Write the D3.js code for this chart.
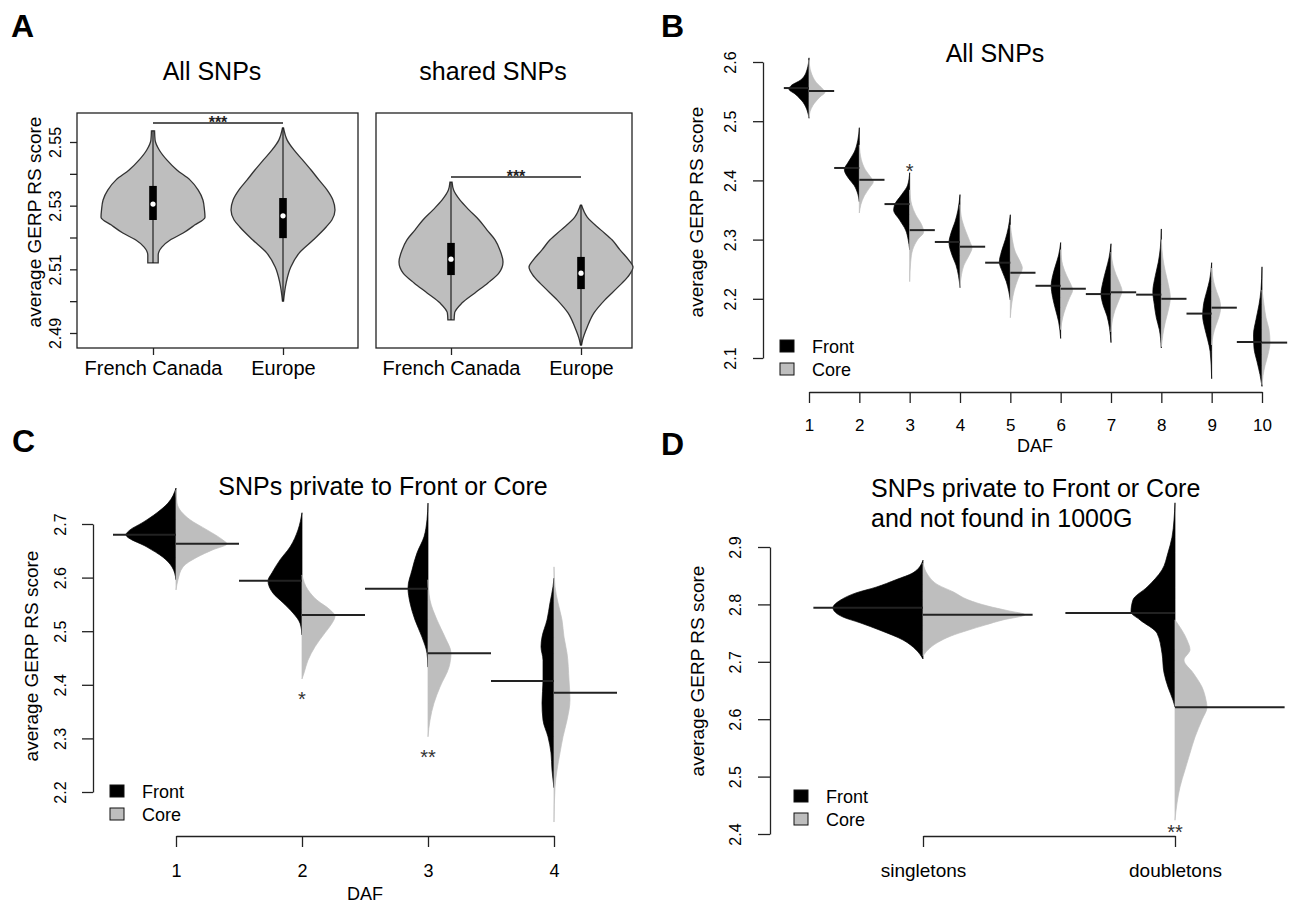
<!DOCTYPE html>
<html>
<head>
<meta charset="utf-8">
<script src="https://cdn.jsdelivr.net/npm/d3@7"></script>
<style>
  body { margin: 0; background: #fff; }
  svg { font-family: "Liberation Sans", Arial, Helvetica, sans-serif; }
</style>
</head>
<body>
<svg id="chart" width="1289" height="904"></svg>
<script>
// ---------- data: panel A (classic violins) ----------
var aGroups = ["French Canada", "Europe"];
var aTickValues = [2.49, 2.50, 2.51, 2.52, 2.53, 2.54, 2.55];
var aTickLabels = ["2.49", "", "2.51", "", "2.53", "", "2.55"];
// [score, relative density]
var aAllProfiles = [
  [[2.5535,0.03],[2.5506,0.04],[2.5475,0.12],[2.5443,0.27],[2.5412,0.46],[2.5381,0.71],[2.5349,0.87],[2.5318,0.96],[2.5286,0.99],[2.5264,1.0],[2.5239,0.8],[2.5214,0.58],[2.5192,0.33],[2.5170,0.17],[2.5145,0.10],[2.5120,0.10]],
  [[2.5544,0.01],[2.5506,0.08],[2.5475,0.21],[2.5443,0.38],[2.5412,0.54],[2.5381,0.69],[2.5349,0.85],[2.5318,0.96],[2.5286,1.0],[2.5255,0.94],[2.5233,0.83],[2.5192,0.58],[2.5151,0.31],[2.5107,0.15],[2.5057,0.06],[2.5000,0.01]]
];
var aSharedProfiles = [
  [[2.5374,0.02],[2.5349,0.05],[2.5318,0.17],[2.5286,0.35],[2.5255,0.54],[2.5224,0.69],[2.5192,0.85],[2.5161,0.94],[2.5123,1.0],[2.5088,0.92],[2.5057,0.71],[2.5026,0.46],[2.4994,0.21],[2.4963,0.07],[2.4941,0.06]],
  [[2.5302,0.01],[2.5264,0.12],[2.5224,0.38],[2.5192,0.6],[2.5161,0.75],[2.5129,0.92],[2.5107,1.0],[2.5076,0.9],[2.5044,0.71],[2.5004,0.46],[2.4963,0.25],[2.4919,0.12],[2.4878,0.03],[2.4862,0.01]]
];
// [q1, median, q3]
var aAllBoxes = [[2.5255, 2.5305, 2.5362], [2.5198, 2.5268, 2.5324]];
var aSharedBoxes = [[2.5082, 2.5132, 2.5183], [2.5038, 2.5088, 2.5139]];

// ---------- data: panel B ----------
var bDaf = [1, 2, 3, 4, 5, 6, 7, 8, 9, 10];
var bTickValues = [2.1, 2.2, 2.3, 2.4, 2.5, 2.6];
var bFrontMedian = [2.556, 2.421, 2.360, 2.296, 2.261, 2.222, 2.208, 2.207, 2.175, 2.127];
var bCoreMedian = [2.551, 2.401, 2.316, 2.288, 2.244, 2.217, 2.211, 2.200, 2.185, 2.126];
var bFrontProfiles = [
  [[2.607,0],[2.587,0.1],[2.570,0.4],[2.560,0.9],[2.554,1.0],[2.546,0.7],[2.532,0.3],[2.519,0.1],[2.505,0]],
  [[2.489,0],[2.468,0.075],[2.448,0.25],[2.431,0.55],[2.418,0.75],[2.404,0.55],[2.391,0.25],[2.377,0.075],[2.364,0]],
  [[2.413,0],[2.392,0.1],[2.376,0.4],[2.359,0.75],[2.350,0.8],[2.333,0.5],[2.316,0.2],[2.300,0.075],[2.283,0]],
  [[2.376,0],[2.350,0.1],[2.330,0.25],[2.311,0.45],[2.295,0.55],[2.274,0.4],[2.257,0.2],[2.239,0.075],[2.219,0]],
  [[2.342,0],[2.320,0.1],[2.300,0.25],[2.279,0.45],[2.262,0.55],[2.246,0.4],[2.229,0.2],[2.212,0.075],[2.198,0]],
  [[2.295,0],[2.274,0.1],[2.257,0.25],[2.239,0.4],[2.222,0.475],[2.202,0.4],[2.181,0.25],[2.161,0.1],[2.133,0]],
  [[2.293,0],[2.269,0.1],[2.249,0.25],[2.229,0.4],[2.208,0.5],[2.190,0.4],[2.171,0.2],[2.151,0.075],[2.126,0]],
  [[2.318,0],[2.286,0.05],[2.262,0.15],[2.239,0.3],[2.212,0.425],[2.190,0.35],[2.168,0.25],[2.148,0.1],[2.117,0]],
  [[2.261,0],[2.232,0.1],[2.212,0.25],[2.192,0.4],[2.171,0.45],[2.151,0.35],[2.131,0.2],[2.111,0.075],[2.065,0]],
  [[2.254,0],[2.215,0.05],[2.190,0.15],[2.165,0.3],[2.139,0.425],[2.117,0.4],[2.094,0.25],[2.072,0.1],[2.052,0]]
];
var bCoreProfiles = [
  [[2.603,0],[2.583,0.1],[2.566,0.35],[2.554,0.7],[2.549,0.8],[2.541,0.55],[2.527,0.2],[2.516,0.05],[2.506,0]],
  [[2.460,0],[2.435,0.1],[2.418,0.3],[2.404,0.6],[2.398,0.7],[2.387,0.5],[2.374,0.25],[2.359,0.075],[2.345,0]],
  [[2.384,0],[2.359,0.1],[2.342,0.3],[2.325,0.6],[2.313,0.7],[2.300,0.4],[2.283,0.15],[2.262,0.05],[2.229,0]],
  [[2.359,0],[2.333,0.1],[2.313,0.3],[2.296,0.5],[2.286,0.6],[2.273,0.45],[2.257,0.2],[2.241,0.075],[2.220,0]],
  [[2.325,0],[2.300,0.1],[2.279,0.25],[2.262,0.5],[2.252,0.6],[2.235,0.4],[2.215,0.2],[2.193,0.075],[2.168,0]],
  [[2.283,0],[2.257,0.1],[2.239,0.3],[2.225,0.5],[2.215,0.6],[2.202,0.45],[2.185,0.25],[2.168,0.1],[2.148,0]],
  [[2.279,0],[2.257,0.1],[2.241,0.25],[2.225,0.45],[2.214,0.55],[2.198,0.4],[2.181,0.2],[2.165,0.075],[2.144,0]],
  [[2.300,0],[2.269,0.075],[2.246,0.2],[2.224,0.35],[2.202,0.45],[2.181,0.35],[2.161,0.2],[2.139,0.075],[2.119,0]],
  [[2.252,0],[2.229,0.1],[2.212,0.25],[2.198,0.4],[2.185,0.45],[2.168,0.35],[2.154,0.2],[2.139,0.075],[2.122,0]],
  [[2.215,0],[2.190,0.1],[2.168,0.2],[2.148,0.35],[2.126,0.4],[2.106,0.3],[2.087,0.15],[2.070,0.05],[2.055,0]]
];
var bSig = ["", "", "*", "", "", "", "", "", "", ""];

// ---------- data: panel C ----------
var cDaf = [1, 2, 3, 4];
var cTickValues = [2.2, 2.3, 2.4, 2.5, 2.6, 2.7];
var cFrontMedian = [2.680, 2.594, 2.579, 2.407];
var cCoreMedian = [2.663, 2.530, 2.459, 2.385];
var cFrontProfiles = [
  [[2.767,0],[2.739,0.16],[2.721,0.38],[2.702,0.68],[2.689,0.92],[2.680,1.0],[2.657,0.58],[2.638,0.26],[2.620,0.08],[2.596,0]],
  [[2.721,0],[2.689,0.08],[2.657,0.24],[2.633,0.44],[2.609,0.6],[2.594,0.68],[2.571,0.58],[2.553,0.38],[2.534,0.18],[2.515,0.04],[2.493,0]],
  [[2.739,0],[2.708,0.02],[2.676,0.08],[2.646,0.22],[2.614,0.32],[2.581,0.4],[2.553,0.36],[2.521,0.26],[2.489,0.12],[2.459,0.02],[2.433,0]],
  [[2.599,0],[2.583,0.02],[2.553,0.08],[2.521,0.14],[2.489,0.24],[2.471,0.26],[2.446,0.22],[2.409,0.22],[2.366,0.24],[2.334,0.22],[2.303,0.12],[2.273,0.06],[2.241,0.04],[2.208,0]]
];
var cCoreProfiles = [
  [[2.763,0],[2.739,0.02],[2.708,0.28],[2.689,0.62],[2.670,0.94],[2.663,1.02],[2.652,0.74],[2.638,0.42],[2.620,0.14],[2.596,0.04],[2.577,0]],
  [[2.605,0],[2.577,0.12],[2.558,0.3],[2.540,0.56],[2.528,0.66],[2.512,0.58],[2.497,0.46],[2.471,0.26],[2.446,0.12],[2.422,0.04],[2.411,0]],
  [[2.596,0],[2.558,0.04],[2.521,0.18],[2.489,0.34],[2.459,0.46],[2.433,0.42],[2.396,0.24],[2.366,0.12],[2.334,0.04],[2.303,0]],
  [[2.620,0],[2.583,0.02],[2.553,0.08],[2.521,0.16],[2.489,0.2],[2.459,0.26],[2.409,0.3],[2.372,0.32],[2.334,0.26],[2.303,0.18],[2.273,0.12],[2.241,0.06],[2.209,0.02],[2.144,0]]
];
var cSig = ["", "*", "**", ""];

// ---------- data: panel D ----------
var dGroups = ["singletons", "doubletons"];
var dTickValues = [2.4, 2.5, 2.6, 2.7, 2.8, 2.9];
var dFrontMedian = [2.794, 2.785];
var dCoreMedian = [2.782, 2.621];
var dFrontProfiles = [
  [[2.877,0],[2.855,0.1],[2.843,0.27],[2.830,0.47],[2.820,0.67],[2.808,0.82],[2.794,0.9],[2.778,0.8],[2.768,0.63],[2.755,0.43],[2.738,0.2],[2.721,0.07],[2.705,0]],
  [[2.977,0],[2.947,0.01],[2.917,0.03],[2.890,0.07],[2.860,0.13],[2.830,0.28],[2.808,0.42],[2.787,0.44],[2.773,0.35],[2.750,0.18],[2.715,0.13],[2.681,0.11],[2.656,0.07],[2.633,0.02],[2.621,0]]
];
var dCoreProfiles = [
  [[2.872,0],[2.851,0.05],[2.834,0.15],[2.822,0.3],[2.808,0.45],[2.797,0.65],[2.789,0.85],[2.782,1.02],[2.773,0.8],[2.764,0.62],[2.755,0.45],[2.745,0.28],[2.733,0.14],[2.721,0.05],[2.710,0]],
  [[2.773,0],[2.738,0.12],[2.721,0.15],[2.703,0.09],[2.681,0.18],[2.656,0.27],[2.633,0.31],[2.621,0.32],[2.599,0.27],[2.569,0.2],[2.541,0.15],[2.512,0.1],[2.482,0.05],[2.454,0.02],[2.424,0]]
];
var dSig = ["", "**"];

var legendKeys = ["Front", "Core"];

// ---------- drawing ----------
var FRONT = "#000", CORE = "#bebebe", INK = "#222";
var svg = d3.select("#chart");

function panelLabel(t, x, y) {
  svg.append("text").text(t).attr("x", x).attr("y", y)
    .attr("font-size", "32px").attr("font-weight", "bold");
}

function title(t, x, y, anchor) {
  svg.append("text").text(t).attr("x", x).attr("y", y)
    .attr("text-anchor", anchor || "middle").attr("font-size", "25px");
}

function yLabel(x, y) {
  svg.append("text").text("average GERP RS score")
    .attr("transform", "translate(" + x + "," + y + ") rotate(-90)")
    .attr("text-anchor", "middle").attr("font-size", "19px");
}

// rotated tick labels like R's default las=0
function leftAxis(x, y, values, fmt, tickLen, labelOff, keepDomain) {
  var axis = d3.axisLeft(y).tickValues(values).tickSize(tickLen).tickSizeOuter(0).tickFormat(fmt);
  var g = svg.append("g").attr("transform", "translate(" + x + ",0)").call(axis)
    .attr("font-size", null).attr("font-family", null);
  g.selectAll("line, path").attr("stroke", INK).attr("stroke-width", 1.3);
  g.selectAll("text")
    .attr("x", null).attr("dy", null)
    .attr("text-anchor", "middle")
    .attr("fill", "#000")
    .attr("font-size", "16px")
    .attr("transform", "translate(" + labelOff + ",0) rotate(-90)");
  if (!keepDomain) g.select(".domain").remove();
  return g;
}

function bottomAxis(x, yPos, values, tickLen, pad, fs, keepDomain) {
  var axis = d3.axisBottom(x).tickValues(values).tickSize(tickLen).tickSizeOuter(0).tickPadding(pad)
    .tickFormat(function(d) { return d; });
  var g = svg.append("g").attr("transform", "translate(0," + yPos + ")").call(axis)
    .attr("font-size", null).attr("font-family", null);
  g.selectAll("line, path").attr("stroke", INK).attr("stroke-width", 1.3);
  g.selectAll("text").attr("fill", "#000").attr("font-size", fs || "18px");
  if (!keepDomain) g.select(".domain").remove();
  return g;
}

function fullViolins(cats, x, y, w, profiles, boxes) {
  var g = svg.append("g");
  cats.forEach(function(c, i) {
    var cx = x(c);
    var prof = profiles[i];
    g.append("path").datum(prof)
      .attr("d", d3.area().curve(d3.curveMonotoneY)
        .y(function(d) { return y(d[0]); })
        .x0(function(d) { return cx - w(d[1]); })
        .x1(function(d) { return cx + w(d[1]); }))
      .attr("fill", CORE).attr("stroke", "#333").attr("stroke-width", 1.3);
    var ext = d3.extent(prof, function(d) { return d[0]; });
    g.append("line").attr("x1", cx).attr("x2", cx)
      .attr("y1", y(ext[0])).attr("y2", y(ext[1]))
      .attr("stroke", "#111").attr("stroke-width", 1.1);
    var b = boxes[i];
    g.append("rect").attr("x", cx - 3.8).attr("width", 7.6)
      .attr("y", y(b[2])).attr("height", y(b[0]) - y(b[2])).attr("fill", "#000");
    g.append("circle").attr("cx", cx).attr("cy", y(b[1])).attr("r", 2.6).attr("fill", "#fff");
  });
  // significance bar
  var top = d3.max(profiles, function(p) { return d3.max(p, function(d) { return d[0]; }); });
  var ly = y(top) - 5;
  g.append("line").attr("x1", x(cats[0])).attr("x2", x(cats[1]))
    .attr("y1", ly).attr("y2", ly).attr("stroke", INK).attr("stroke-width", 1.5);
  g.append("text").text("***").attr("x", (x(cats[0]) + x(cats[1])) / 2).attr("y", ly + 5)
    .attr("text-anchor", "middle").attr("font-size", "16px").attr("font-weight", "bold").attr("fill", "#222");
}

function halfArea(y, w, cx, side) {
  return d3.area().curve(d3.curveMonotoneY)
    .y(function(d) { return y(d[0]); })
    .x0(cx)
    .x1(function(d) { return cx + side * w(d[1]); });
}

function splitViolins(cats, x, y, w, fronts, cores, fMed, cMed, medLen, sig, sigSide, sigOff) {
  var g = svg.append("g");
  cats.forEach(function(c, i) {
    var cx = x(c);
    g.append("path").datum(fronts[i]).attr("d", halfArea(y, w, cx, -1))
      .attr("fill", FRONT).attr("stroke", FRONT).attr("stroke-width", 0.7);
    g.append("path").datum(cores[i]).attr("d", halfArea(y, w, cx, 1))
      .attr("fill", CORE).attr("stroke", CORE).attr("stroke-width", 0.7);
    g.append("line").attr("x1", cx - medLen).attr("x2", cx)
      .attr("y1", y(fMed[i])).attr("y2", y(fMed[i]))
      .attr("stroke", INK).attr("stroke-width", 2);
    g.append("line").attr("x1", cx).attr("x2", cx + medLen)
      .attr("y1", y(cMed[i])).attr("y2", y(cMed[i]))
      .attr("stroke", INK).attr("stroke-width", 2);
    if (sig[i]) {
      var all = fronts[i].concat(cores[i]);
      var cy = sigSide < 0
        ? y(d3.max(all, function(d) { return d[0]; })) - sigOff
        : y(d3.min(all, function(d) { return d[0]; })) + sigOff;
      g.append("text").text(sig[i]).attr("x", cx).attr("y", cy + 11)
        .attr("text-anchor", "middle").attr("font-size", "20px").attr("fill", "#333");
    }
  });
}

function legend(x, y) {
  var g = svg.append("g").attr("transform", "translate(" + x + "," + y + ")");
  legendKeys.forEach(function(k, i) {
    g.append("rect").attr("x", 0).attr("y", i * 23).attr("width", 14).attr("height", 12)
      .attr("fill", i === 0 ? FRONT : CORE).attr("stroke", "#111").attr("stroke-width", 1);
    g.append("text").text(k).attr("x", 32).attr("y", i * 23 + 12.5).attr("font-size", "18px");
  });
}

var fmt1 = d3.format(".1f");

// ===== Panel A =====
panelLabel("A", 11, 37);
var yA = d3.scaleLinear().domain([2.49, 2.55]).range([333, 142]);
var wA = d3.scaleLinear().domain([0, 1]).range([0, 52]);
var xA1 = d3.scalePoint().domain(aGroups).range([153, 283]);
var xA2 = d3.scalePoint().domain(aGroups).range([451, 581]);

svg.append("rect").attr("x", 77).attr("y", 113).attr("width", 281).attr("height", 235)
  .attr("fill", "none").attr("stroke", INK).attr("stroke-width", 1.3);
svg.append("rect").attr("x", 376).attr("y", 113).attr("width", 256).attr("height", 235)
  .attr("fill", "none").attr("stroke", INK).attr("stroke-width", 1.3);

title("All SNPs", 212, 80);
title("shared SNPs", 493, 80);
leftAxis(77, yA, aTickValues, function(d) { return aTickLabels[aTickValues.indexOf(d)]; }, 7, -16, false);
yLabel(41, 222);
fullViolins(aGroups, xA1, yA, wA, aAllProfiles, aAllBoxes);
fullViolins(aGroups, xA2, yA, wA, aSharedProfiles, aSharedBoxes);
bottomAxis(xA1, 348, aGroups, 7, 6, "20px", false);
bottomAxis(xA2, 348, aGroups, 7, 6, "20px", false);

// ===== Panel B =====
panelLabel("B", 661, 37);
var yB = d3.scaleLinear().domain([2.1, 2.6]).range([358, 62]);
var xB = d3.scaleLinear().domain([1, 10]).range([809, 1262]);
var wB = d3.scaleLinear().domain([0, 1]).range([0, 20]);
title("All SNPs", 995, 62);
leftAxis(763, yB, bTickValues, fmt1, 10, -27, true);
yLabel(703, 212);
splitViolins(bDaf, xB, yB, wB, bFrontProfiles, bCoreProfiles, bFrontMedian, bCoreMedian,
  (xB(2) - xB(1)) / 2, bSig, -1, 6);
bottomAxis(xB, 392, bDaf, 11, 16, "17px", true);
svg.append("text").text("DAF").attr("x", 1035).attr("y", 452).attr("text-anchor", "middle").attr("font-size", "18px");
legend(780, 340);

// ===== Panel C =====
panelLabel("C", 12, 452);
var yC = d3.scaleLinear().domain([2.2, 2.7]).range([792, 524]);
var xC = d3.scaleLinear().domain([1, 4]).range([176, 554]);
var wC = d3.scaleLinear().domain([0, 1]).range([0, 50]);
title("SNPs private to Front or Core", 383, 495);
leftAxis(93, yC, cTickValues, fmt1, 11, -27, true);
yLabel(38, 656);
splitViolins(cDaf, xC, yC, wC, cFrontProfiles, cCoreProfiles, cFrontMedian, cCoreMedian,
  (xC(2) - xC(1)) / 2, cSig, 1, 16);
bottomAxis(xC, 836, cDaf, 11, 17, "18px", true);
svg.append("text").text("DAF").attr("x", 365).attr("y", 900).attr("text-anchor", "middle").attr("font-size", "18px");
legend(110, 785);

// ===== Panel D =====
panelLabel("D", 661, 455);
var yD = d3.scaleLinear().domain([2.4, 2.9]).range([834, 547]);
var xD = d3.scalePoint().domain(dGroups).range([923, 1175]);
var wD = d3.scaleLinear().domain([0, 1]).range([0, 100]);
title("SNPs private to Front or Core", 871, 497, "start");
title("and not found in 1000G", 871, 527, "start");
leftAxis(770, yD, dTickValues, fmt1, 12, -29, true);
yLabel(704, 671);
splitViolins(dGroups, xD, yD, wD, dFrontProfiles, dCoreProfiles, dFrontMedian, dCoreMedian,
  (xD("doubletons") - xD("singletons")) * 0.435, dSig, 1, 8);
bottomAxis(xD, 836, dGroups, 11, 17, "19px", true);
legend(794, 790);
</script>
</body>
</html>
